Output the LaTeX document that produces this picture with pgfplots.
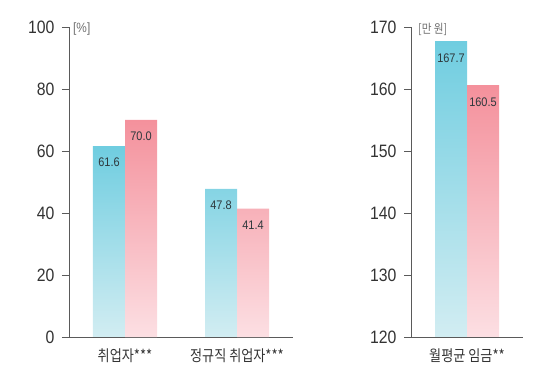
\documentclass[border=0pt]{standalone}
\usepackage{pgfplots}
\pgfplotsset{compat=1.18}
\usepackage{fontspec}
\setmainfont{Liberation Sans}[FakeStretch=0.88]
\newfontfamily\kr{Noto Sans CJK KR}[FakeStretch=0.85]
\definecolor{cyanT}{HTML}{6FCDE0}
\definecolor{cyanB}{HTML}{D2EDF2}
\definecolor{pinkT}{HTML}{F4919C}
\definecolor{pinkB}{HTML}{FCDFE3}
\definecolor{axc}{HTML}{5A5A5A}
\definecolor{tickc}{HTML}{333333}
\definecolor{valc}{HTML}{2E383C}
\definecolor{unitc}{HTML}{707070}
\pgfplotsset{
  mystyle/.style={
    scale only axis,
    height=310bp,
    axis lines*=left,
    axis line style={draw=axc, line width=0.9bp},
    every tick/.style={draw=axc, line width=0.9bp},
    tick align=outside,
    major tick length=7bp,
    /pgf/number format/assume math mode=true,
    yticklabel style={font=\fontsize{18}{20}\selectfont, text=tickc, xshift=-4bp},
    xticklabel style={font=\kr\fontsize{15.5}{17}\selectfont, text=tickc, yshift=-1bp},
    xtick={0,1},
    ytick pos=left,
    xtick pos=bottom,
    ybar=0pt,
    bar width=32bp,
    clip=false,
    nodes near coords,
    nodes near coords style={font=\fontsize{12.5}{14}\selectfont, text=valc, anchor=center, yshift=-16.5bp},
  }
}
\begin{document}
\begin{tikzpicture}
\useasboundingbox (0,0) rectangle (540bp,373bp);
\begin{axis}[mystyle,
  at={(69bp,36bp)}, anchor=south west,
  width=224bp,
  xmin=-0.5, xmax=1.5,
  ymin=0, ymax=100,
  ytick={0,20,40,60,80,100},
  xticklabels={취업자***, 정규직 취업자***},
  xtick style={draw=none},
  extra x ticks={-0.5,0.5,1.5},
  extra x tick labels={},
  extra x tick style={major tick length=6bp, tick style={draw=axc, line width=0.9bp}},
  nodes near coords={\pgfmathprintnumber[fixed,fixed zerofill,precision=1]{\pgfplotspointmeta}},
]
\addplot[draw=none, top color=cyanT, bottom color=cyanB] coordinates {(0,61.6) (1,47.8)};
\addplot[draw=none, top color=pinkT, bottom color=pinkB] coordinates {(0,70.0) (1,41.4)};
\node[anchor=west, font=\fontsize{13.5}{14}\selectfont, text=unitc, inner sep=0pt] at ([xshift=4bp,yshift=-2.5bp]rel axis cs:0,1) {[\%]};
\end{axis}
\begin{axis}[mystyle,
  at={(411bp,36bp)}, anchor=south west,
  width=112bp,
  xmin=-0.5, xmax=0.5,
  ymin=120, ymax=170,
  ytick={120,130,140,150,160,170},
  xtick={0},
  xticklabels={월평균 임금**},
  xtick style={draw=none},
  extra x ticks={-0.5,0.5},
  extra x tick labels={},
  extra x tick style={major tick length=6bp, tick style={draw=axc, line width=0.9bp}},
  nodes near coords={\pgfmathprintnumber[fixed,fixed zerofill,precision=1]{\pgfplotspointmeta}},
]
\addplot[draw=none, top color=cyanT, bottom color=cyanB] coordinates {(0,167.7)};
\addplot[draw=none, top color=pinkT, bottom color=pinkB] coordinates {(0,160.5)};
\node[anchor=west, font=\kr\fontsize{12.5}{14}\selectfont, text=unitc, inner sep=0pt] at ([xshift=7bp,yshift=-2.5bp]rel axis cs:0,1) {[만 원]};
\end{axis}
\end{tikzpicture}
\end{document}
